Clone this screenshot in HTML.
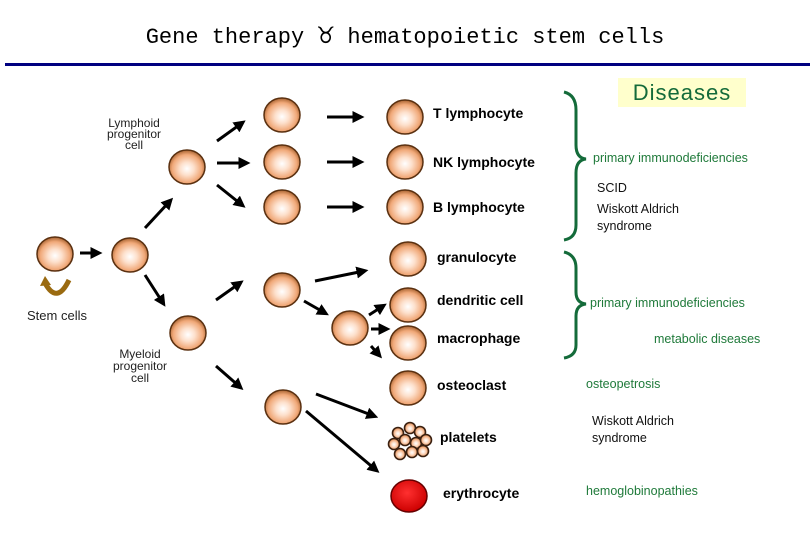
<!DOCTYPE html>
<html><head><meta charset="utf-8"><style>
body{margin:0;background:#fff}
svg{display:block}
text{font-family:"Liberation Sans",sans-serif}
.lb{font-size:14px;font-weight:bold;fill:#000}
.g{font-size:12.5px;fill:#1f7a3a}
.k{font-size:12.5px;fill:#111}
.s{font-size:12px;fill:#222}
</style></head><body>
<svg width="810" height="540" viewBox="0 0 810 540" xmlns="http://www.w3.org/2000/svg">
<defs>
<radialGradient id="c" cx="50%" cy="55%" r="55%">
<stop offset="0" stop-color="#fff"/><stop offset="0.35" stop-color="#fde0cc"/><stop offset="0.75" stop-color="#f0a878"/><stop offset="1" stop-color="#a5602e"/>
</radialGradient>
<radialGradient id="r" cx="45%" cy="40%" r="60%"><stop offset="0" stop-color="#ff3030"/><stop offset="1" stop-color="#cc0000"/></radialGradient>
<marker id="a" markerWidth="4" markerHeight="4" refX="2.5" refY="2" orient="auto" markerUnits="strokeWidth"><path d="M0,0L4,2L0,4z" fill="#000"/></marker>
<g id="cell"><ellipse rx="18" ry="17" fill="url(#c)" stroke="#5a3010" stroke-width="1.5"/></g>
<g id="pl"><circle r="5.5" fill="url(#c)" stroke="#3a2010" stroke-width="1.6"/></g>
</defs>
<text x="405" y="43" text-anchor="middle" style="font-family:'Liberation Mono',monospace;font-size:22px">Gene therapy <tspan style="font-size:28px">♉</tspan> hematopoietic stem cells</text>
<rect x="5" y="63" width="805" height="3" fill="#000080"/>
<rect x="618" y="78" width="128" height="29" fill="#ffffcc"/>
<text x="682" y="100" text-anchor="middle" style="font-size:22px;fill:#146b3a;letter-spacing:1px">Diseases</text>

<use href="#cell" x="55" y="254"/><use href="#cell" x="130" y="255"/>
<use href="#cell" x="187" y="167"/>
<use href="#cell" x="282" y="115"/><use href="#cell" x="282" y="162"/><use href="#cell" x="282" y="207"/>
<use href="#cell" x="405" y="117"/><use href="#cell" x="405" y="162"/><use href="#cell" x="405" y="207"/>
<use href="#cell" x="188" y="333"/>
<use href="#cell" x="282" y="290"/><use href="#cell" x="350" y="328"/><use href="#cell" x="283" y="407"/>
<use href="#cell" x="408" y="259"/><use href="#cell" x="408" y="305"/><use href="#cell" x="408" y="343"/><use href="#cell" x="408" y="388"/>
<ellipse cx="409" cy="496" rx="18" ry="16" fill="url(#r)" stroke="#600" stroke-width="1.5"/>
<g>
<use href="#pl" x="398" y="433"/><use href="#pl" x="410" y="428"/><use href="#pl" x="420" y="432"/>
<use href="#pl" x="394" y="444"/><use href="#pl" x="405" y="440"/><use href="#pl" x="416" y="443"/><use href="#pl" x="426" y="440"/>
<use href="#pl" x="400" y="454"/><use href="#pl" x="412" y="452"/><use href="#pl" x="423" y="451"/>
</g>
<path d="M45,283 Q57,305 69,280" fill="none" stroke="#9a6a10" stroke-width="5"/>
<path d="M40,286 L45,276 L51,285z" fill="#9a6a10"/>

<g stroke="#000" stroke-width="3" marker-end="url(#a)" fill="none">
<line x1="80" y1="253" x2="98" y2="253"/>
<line x1="145" y1="275" x2="163" y2="303"/>
<line x1="145" y1="228" x2="170" y2="201"/>
<line x1="217" y1="141" x2="242" y2="123"/>
<line x1="217" y1="163" x2="246" y2="163"/>
<line x1="217" y1="185" x2="242" y2="205"/>
<line x1="327" y1="117" x2="360" y2="117"/>
<line x1="327" y1="162" x2="360" y2="162"/>
<line x1="327" y1="207" x2="360" y2="207"/>
<line x1="216" y1="300" x2="240" y2="283"/>
<line x1="216" y1="366" x2="240" y2="387"/>
<line x1="315" y1="281" x2="364" y2="271"/>
<line x1="304" y1="301" x2="325" y2="313"/>
<line x1="369" y1="315" x2="383" y2="306"/>
<line x1="371" y1="329" x2="386" y2="329"/>
<line x1="371" y1="346" x2="379" y2="355"/>
<line x1="316" y1="394" x2="374" y2="416"/>
<line x1="306" y1="411" x2="376" y2="470"/>
</g>

<text class="s" x="134" y="127" text-anchor="middle">Lymphoid</text>
<text class="s" x="134" y="138" text-anchor="middle">progenitor</text>
<text class="s" x="134" y="149" text-anchor="middle">cell</text>
<text class="s" x="140" y="358" text-anchor="middle">Myeloid</text>
<text class="s" x="140" y="370" text-anchor="middle">progenitor</text>
<text class="s" x="140" y="382" text-anchor="middle">cell</text>
<text class="s" x="57" y="320" text-anchor="middle" style="font-size:13px">Stem cells</text>

<text class="lb" x="433" y="118">T lymphocyte</text>
<text class="lb" x="433" y="167">NK lymphocyte</text>
<text class="lb" x="433" y="212">B lymphocyte</text>
<text class="lb" x="437" y="262">granulocyte</text>
<text class="lb" x="437" y="305">dendritic cell</text>
<text class="lb" x="437" y="343">macrophage</text>
<text class="lb" x="437" y="390">osteoclast</text>
<text class="lb" x="440" y="442">platelets</text>
<text class="lb" x="443" y="498">erythrocyte</text>

<g fill="none" stroke="#146b3a" stroke-width="3">
<path d="M564,92 Q576,95 576,110 L576,145 Q576,158 586,159 Q576,160 576,173 L576,225 Q576,238 564,240"/>
<path d="M564,252 Q576,255 576,268 L576,292 Q576,303 586,304 Q576,305 576,316 L576,345 Q576,356 564,358"/>
</g>
<text class="g" x="593" y="162">primary immunodeficiencies</text>
<text class="k" x="597" y="192">SCID</text>
<text class="k" x="597" y="213">Wiskott Aldrich</text>
<text class="k" x="597" y="230">syndrome</text>
<text class="g" x="590" y="307">primary immunodeficiencies</text>
<text class="g" x="654" y="343">metabolic diseases</text>
<text class="g" x="586" y="388">osteopetrosis</text>
<text class="k" x="592" y="425">Wiskott Aldrich</text>
<text class="k" x="592" y="442">syndrome</text>
<text class="g" x="586" y="495">hemoglobinopathies</text>
</svg>
</body></html>
